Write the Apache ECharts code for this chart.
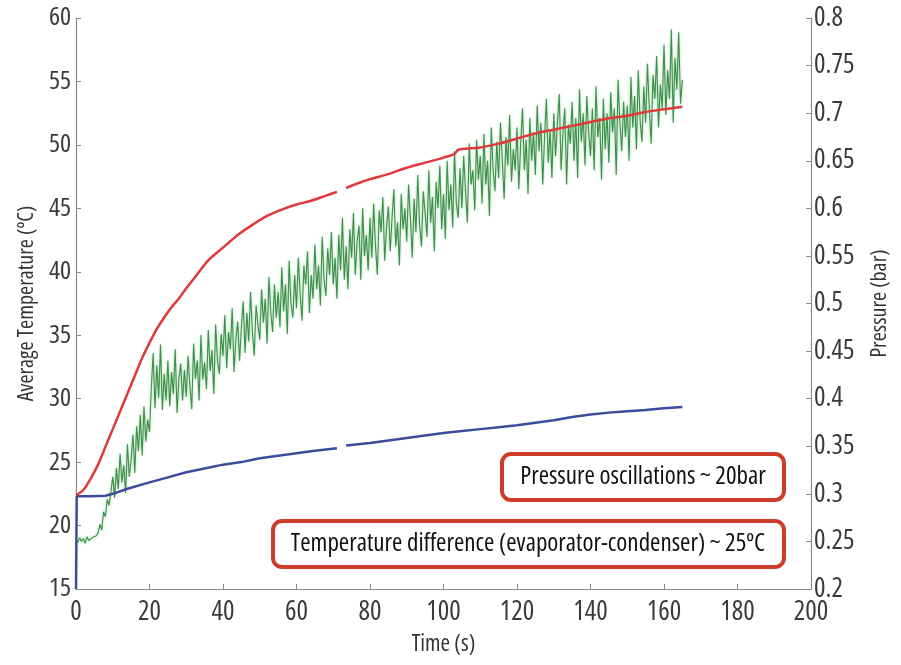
<!DOCTYPE html>
<html>
<head>
<meta charset="utf-8">
<script src="https://cdn.jsdelivr.net/npm/echarts@6/dist/echarts.min.js"></script>
<style>html,body{margin:0;padding:0;background:#fff;}#c{width:901px;height:665px;}</style>
</head>
<body>
<div id="c"></div>
<script>
// Evaporator (red) average temperature, degC
const redTimes = [0,2,4,6,8,10,12,14,16,18,20,22,24,26,28,30,33,36,40,44,48,52,56,60,64,68,71,72,73.5,76,80,85,90,95,100,103,104,106,110,115,120,125,130,135,140,145,150,155,160,165];
const redTemps = [22.4,22.8,23.7,24.8,26.2,27.6,29.0,30.4,31.8,33.2,34.4,35.5,36.4,37.2,37.9,38.7,39.8,40.9,41.9,42.9,43.7,44.4,44.9,45.3,45.6,46.0,46.3,null,46.6,46.9,47.3,47.7,48.2,48.6,49.0,49.3,49.6,49.7,49.8,50.1,50.5,50.9,51.2,51.5,51.8,52.1,52.3,52.6,52.8,53.0];
// Condenser (blue) average temperature, degC
const blueTimes = [0,0.2,4,8,10,14,20,25,30,35,40,45,50,55,60,65,71,72,73.5,80,85,90,95,100,105,110,115,120,125,130,135,140,145,150,155,160,165];
const blueTemps = [15,22.3,22.3,22.35,22.5,22.9,23.4,23.8,24.2,24.5,24.8,25.0,25.3,25.5,25.7,25.9,26.1,null,26.3,26.5,26.7,26.9,27.1,27.3,27.45,27.6,27.75,27.9,28.1,28.3,28.55,28.75,28.9,29.0,29.1,29.25,29.35];
// Pressure (green), bar, sampled every 0.5 s from t = 0
const pressureStart = 0;
const pressureStep = 0.5;
const pressureValues = [
0.252,0.249,0.254,0.250,0.253,0.248,0.255,0.251,0.250,0.254,
0.252,0.256,0.259,0.268,0.262,0.281,0.276,0.294,0.288,0.302,
0.318,0.296,0.327,0.305,0.342,0.312,0.330,0.301,0.352,0.318,
0.336,0.362,0.322,0.371,0.345,0.383,0.340,0.392,0.355,0.378,
0.365,0.412,0.448,0.390,0.435,0.401,0.457,0.388,0.426,0.398,
0.440,0.392,0.428,0.405,0.452,0.385,0.420,0.437,0.398,0.430,
0.402,0.445,0.413,0.389,0.458,0.421,0.440,0.398,0.467,0.420,
0.438,0.410,0.472,0.429,0.451,0.405,0.478,0.440,0.426,0.468,
0.445,0.488,0.432,0.470,0.452,0.495,0.428,0.462,0.481,0.440,
0.475,0.502,0.448,0.490,0.460,0.512,0.470,0.445,0.498,0.478,
0.462,0.515,0.480,0.505,0.458,0.528,0.490,0.470,0.520,0.485,
0.512,0.475,0.538,0.492,0.520,0.468,0.545,0.500,0.485,0.530,
0.495,0.548,0.510,0.482,0.540,0.520,0.555,0.490,0.530,0.505,
0.562,0.515,0.540,0.498,0.570,0.525,0.508,0.558,0.530,0.575,
0.520,0.548,0.505,0.572,0.535,0.590,0.525,0.560,0.515,0.578,
0.548,0.595,0.530,0.565,0.582,0.525,0.600,0.550,0.572,0.535,
0.590,0.548,0.605,0.560,0.530,0.598,0.575,0.612,0.545,0.580,
0.602,0.555,0.590,0.620,0.560,0.585,0.540,0.615,0.578,0.600,
0.565,0.625,0.590,0.548,0.610,0.575,0.635,0.582,0.560,0.618,
0.595,0.570,0.640,0.585,0.612,0.555,0.628,0.600,0.645,0.578,
0.615,0.568,0.650,0.598,0.625,0.580,0.660,0.605,0.590,0.642,
0.600,0.655,0.618,0.585,0.668,0.625,0.640,0.598,0.672,0.630,
0.655,0.605,0.678,0.625,0.650,0.592,0.685,0.640,0.618,0.670,
0.632,0.690,0.650,0.610,0.675,0.645,0.698,0.628,0.662,0.640,
0.685,0.620,0.668,0.705,0.640,0.672,0.615,0.695,0.650,0.680,
0.635,0.708,0.660,0.690,0.625,0.675,0.715,0.648,0.682,0.632,
0.700,0.655,0.690,0.720,0.640,0.678,0.705,0.625,0.688,0.668,
0.712,0.650,0.695,0.632,0.725,0.670,0.700,0.645,0.718,0.680,
0.655,0.705,0.640,0.728,0.675,0.695,0.630,0.715,0.662,0.700,
0.648,0.722,0.680,0.705,0.635,0.735,0.690,0.660,0.712,0.675,
0.708,0.650,0.738,0.685,0.718,0.662,0.745,0.692,0.670,0.728,
0.690,0.752,0.705,0.668,0.740,0.715,0.760,0.685,0.730,0.705,
0.772,0.698,0.745,0.715,0.788,0.690,0.758,0.725,0.785,0.710,
0.735];
const xTicks = {min:0, max:200, interval:20};
const tempTicks = {min:15, max:60, interval:5};
const pressTicks = {min:0.2, max:0.8, interval:0.05};
const note1 = 'Pressure oscillations ~ 20bar';
const note2 = 'Temperature difference (evaporator-condenser) ~ 25ºC';

const FAM = '"Open Sans", sans-serif';
const zip = (a,b) => a.map((v,i)=>[v,b[i]]);
const pressureData = pressureValues.map((v,i)=>[pressureStart + i*pressureStep, v]);
const txt = (size, color) => ({fontFamily:FAM, fontStyle:'condensed', fontSize:size, color:color});

const axisLineStyle = {lineStyle:{color:'#8a8a8a', width:1.2}};
const tick = {show:true, inside:true, length:5, lineStyle:{color:'#8a8a8a'}};
const chart = echarts.init(document.getElementById('c'));
chart.setOption({
  animation:false,
  backgroundColor:'#fff',
  grid:{left:76, right:90, top:18, bottom:76},
  xAxis:{type:'value', min:xTicks.min, max:xTicks.max, interval:xTicks.interval,
    name:'Time (s)', nameLocation:'middle', nameGap:44,
    nameTextStyle:txt(23,'#333'),
    axisLine:axisLineStyle, axisTick:tick,
    axisLabel:Object.assign(txt(27,'#3a3a3a'), {margin:10}),
    splitLine:{show:false}},
  yAxis:[
    {type:'value', min:tempTicks.min, max:tempTicks.max, interval:tempTicks.interval,
     name:'Average Temperature (ºC)', nameLocation:'middle', nameGap:38,
     nameTextStyle:txt(22,'#333'),
     axisLine:Object.assign({show:true}, axisLineStyle), axisTick:tick,
     axisLabel:Object.assign(txt(26,'#3a3a3a'), {margin:5}),
     splitLine:{show:false}},
    {type:'value', min:pressTicks.min, max:pressTicks.max, interval:pressTicks.interval,
     position:'right',
     name:'Pressure (bar)', nameLocation:'middle', nameGap:58,
     nameTextStyle:txt(22,'#333'),
     axisLine:Object.assign({show:true}, axisLineStyle), axisTick:tick,
     axisLabel:Object.assign(txt(27,'#3a3a3a'), {margin:3}),
     splitLine:{show:false}}
  ],
  series:[
    {type:'line', yAxisIndex:1, data:pressureData, showSymbol:false, symbol:'none',
     lineStyle:{color:'#2a8538', width:1.1, opacity:0.9, shadowColor:'rgba(90,180,100,0.6)', shadowBlur:3}, z:2},
    {type:'line', yAxisIndex:0, data:zip(blueTimes, blueTemps), showSymbol:false, symbol:'none', connectNulls:false,
     lineStyle:{color:'#3b4c9c', width:2.5}, z:3},
    {type:'line', yAxisIndex:0, data:zip(redTimes, redTemps), showSymbol:false, symbol:'none', connectNulls:false,
     smooth:0.3,
     lineStyle:{color:'#e0393a', width:2.5}, z:3}
  ],
  graphic:[
    {type:'rect', shape:{x:502, y:454, width:282, height:46, r:9},
     style:{fill:'#fff', stroke:'#cf3d2a', lineWidth:4}, z:10},
    {type:'text', x:643, y:477, style:{text:note1, font:'condensed 25px "Open Sans"', fill:'#111', align:'center', verticalAlign:'middle'}, z:11},
    {type:'rect', shape:{x:273, y:521, width:511, height:46, r:9},
     style:{fill:'#fff', stroke:'#cf3d2a', lineWidth:4}, z:10},
    {type:'text', x:528, y:544, style:{text:note2, font:'condensed 25px "Open Sans"', fill:'#111', align:'center', verticalAlign:'middle'}, z:11}
  ]
});
</script>
</body>
</html>
